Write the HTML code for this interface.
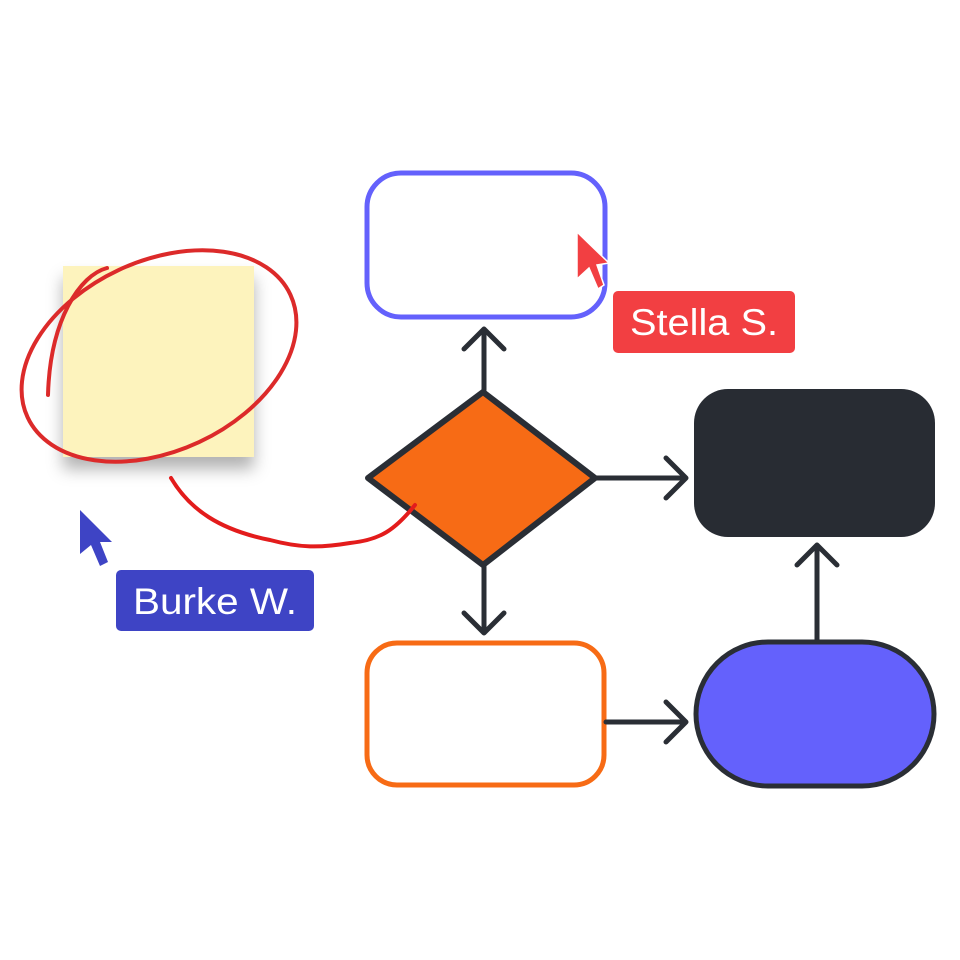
<!DOCTYPE html>
<html><head><meta charset="utf-8"><style>html,body{margin:0;padding:0;background:#fff}svg{display:block}</style></head><body>
<svg width="960" height="960" viewBox="0 0 960 960" xmlns="http://www.w3.org/2000/svg">
<defs>
<filter id="sh" x="-30%" y="-30%" width="160%" height="170%"><feDropShadow dx="0" dy="12" stdDeviation="8" flood-color="#000" flood-opacity="0.3"/></filter>
</defs>
<rect x="63" y="266" width="191" height="191" fill="#fdf3bd" filter="url(#sh)"/>
<rect x="367" y="173" width="238" height="144" rx="34" fill="#fff" stroke="#6461fc" stroke-width="5"/>
<rect x="367" y="643" width="237" height="142" rx="30" fill="#fff" stroke="#f76b15" stroke-width="5"/>
<rect x="694" y="389" width="241" height="148" rx="34" fill="#282c33"/>
<rect x="696" y="642" width="238" height="144" rx="72" fill="#6461fc" stroke="#2a2e35" stroke-width="5"/>
<g stroke="#2a2e35" stroke-width="5" fill="none" stroke-linecap="round" stroke-linejoin="round">
<line x1="484" y1="390" x2="484" y2="330"/><polyline points="464,349 484,329 504,349"/>
<line x1="597" y1="478" x2="685" y2="478"/><polyline points="666,458 686,478 666,498"/>
<line x1="484" y1="566" x2="484" y2="632"/><polyline points="464,613 484,633 504,613"/>
<line x1="606" y1="722" x2="685" y2="722"/><polyline points="666,702 686,722 666,742"/>
<line x1="817" y1="640" x2="817" y2="546"/><polyline points="797,565 817,545 837,565"/>
</g>
<polygon points="483,392 595,478 483,565 368,478" fill="#f76b15" stroke="#2a2e35" stroke-width="6" stroke-linejoin="round"/>
<g fill="none" stroke="#dc2a2a" stroke-width="4" stroke-linecap="round">
<path d="M107,268 C80,275 50,320 48,395"/>
<ellipse cx="159" cy="356" rx="145" ry="95" transform="rotate(-25 159 356)"/>
<path d="M171,478 C190,510 220,530 270,540 C300,548 320,548 350,543 C380,540 395,530 415,505" stroke="#e31c1c"/>
</g>
<path d="M577,232 L609,263 L597,265 L604,285 L598,289 L589,268 L577,279 Z" fill="#f23f42" stroke="#fff" stroke-width="1.5"/>
<rect x="613" y="291" width="182" height="62" rx="5" fill="#f23f42"/>
<text x="630" y="335" fill="#fff" font-family="Liberation Sans, sans-serif" font-size="37" textLength="148" lengthAdjust="spacingAndGlyphs">Stella S.</text>
<path d="M80,510 L112,542 L100,542 L108,562 L100,566 L91,545 L80,554 Z" fill="#3e44c5"/>
<rect x="116" y="570" width="198" height="61" rx="5" fill="#3e44c5"/>
<text x="133" y="614" fill="#fff" font-family="Liberation Sans, sans-serif" font-size="37" textLength="164" lengthAdjust="spacingAndGlyphs">Burke W.</text>
</svg>
</body></html>
